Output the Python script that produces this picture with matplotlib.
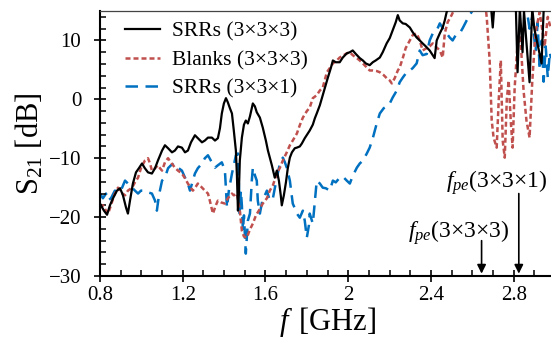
import matplotlib
matplotlib.use("Agg")
import matplotlib.pyplot as plt
from matplotlib.ticker import MultipleLocator

plt.rcParams['font.family'] = ['Liberation Serif', 'DejaVu Serif']
plt.rcParams['mathtext.fontset'] = 'custom'
plt.rcParams['mathtext.rm'] = 'Liberation Serif'
plt.rcParams['mathtext.it'] = 'Liberation Serif:italic'

# ---- data: SRRs (3x3x3) ----
f_srr333 = [0.800, 0.819, 0.834, 0.848, 0.863, 0.882, 0.897, 0.911, 0.926, 0.935,
            0.945, 0.959, 0.974, 0.988, 1.003, 1.017, 1.032, 1.051, 1.066, 1.080,
            1.100, 1.114, 1.129, 1.148, 1.162, 1.177, 1.196, 1.211, 1.225, 1.240,
            1.259, 1.273, 1.293, 1.307, 1.322, 1.341, 1.356, 1.370, 1.380, 1.389,
            1.399, 1.409, 1.418, 1.428, 1.438, 1.447, 1.457, 1.462, 1.467, 1.471,
            1.476, 1.486, 1.496, 1.505, 1.515, 1.525, 1.534, 1.539, 1.549, 1.558,
            1.573, 1.587, 1.602, 1.612, 1.621, 1.631, 1.645, 1.655, 1.665, 1.674,
            1.679, 1.689, 1.699, 1.708, 1.718, 1.728, 1.742, 1.752, 1.766, 1.776,
            1.790, 1.805, 1.814, 1.829, 1.839, 1.848, 1.863, 1.877, 1.887, 1.901,
            1.916, 1.926, 1.940, 1.959, 1.974, 1.993, 2.008, 2.022, 2.037, 2.056,
            2.071, 2.085, 2.104, 2.119, 2.133, 2.153, 2.167, 2.186, 2.201, 2.215,
            2.230, 2.240, 2.249, 2.264, 2.278, 2.298, 2.312, 2.331, 2.346, 2.360,
            2.375, 2.394, 2.409, 2.418, 2.428, 2.443, 2.457, 2.467, 2.476, 2.491,
            2.520, 2.550, 2.600, 2.640, 2.670, 2.690, 2.699, 2.708, 2.740, 2.780,
            2.810, 2.819, 2.830, 2.843, 2.850, 2.877, 2.890, 2.900, 2.935, 2.945,
            2.960, 2.980]
s_srr333 = [-17.7, -18.9, -19.6, -18.0, -16.8, -15.5, -15.1, -16.3, -18.4, -19.4,
            -17.2, -14.3, -12.4, -11.7, -10.9, -11.7, -12.4, -12.6, -11.7, -10.4,
            -8.7, -7.8, -8.3, -9.0, -8.7, -8.0, -8.2, -9.0, -8.7, -7.3,
            -6.1, -6.6, -7.3, -7.0, -6.5, -6.5, -7.0, -6.6, -4.9, -2.4,
            -0.7, 0.2, -0.5, -1.5, -2.4, -5.3, -8.7, -12.9, -18.9, -16.3,
            -10.4, -6.5, -4.3, -3.6, -4.1, -2.9, -1.5, -0.7, -1.2, -2.2,
            -3.1, -4.8, -7.0, -8.7, -9.9, -11.2, -13.3, -12.1, -13.8, -16.3,
            -18.0, -16.3, -14.1, -11.7, -9.9, -9.0, -8.3, -8.2, -8.0, -7.5,
            -6.6, -5.8, -5.3, -4.3, -3.2, -2.4, -1.0, 0.7, 1.9, 3.6,
            5.3, 6.6, 6.3, 6.3, 7.1, 7.8, 8.0, 8.3, 7.7, 7.0,
            6.6, 6.1, 5.8, 6.3, 6.6, 7.1, 8.0, 9.5, 10.4, 11.7,
            13.1, 14.3, 13.4, 12.9, 12.8, 12.2, 11.4, 10.5, 10.0, 9.5,
            9.0, 8.3, 7.5, 7.0, 10.0, 11.2, 12.2, 13.4, 14.8, 16.0,
            17.5, 18.5, 17.8, 18.2, 16.5, 16.0, 12.2, 16.5, 18.0, 17.0,
            16.5, 4.6, 15.5, 8.0, 15.0, 2.9, 15.5, 12.0, 6.1, 15.0,
            17.0, 16.5]

# ---- data: Blanks (3x3x3) ----
f_blank = [0.800, 0.814, 0.829, 0.839, 0.853, 0.868, 0.887, 0.901, 0.921, 0.935,
           0.955, 0.969, 0.984, 0.998, 1.017, 1.032, 1.042, 1.051, 1.066, 1.080,
           1.090, 1.100, 1.114, 1.129, 1.143, 1.162, 1.177, 1.196, 1.211, 1.225,
           1.240, 1.249, 1.264, 1.273, 1.288, 1.307, 1.322, 1.331, 1.346, 1.360,
           1.370, 1.385, 1.404, 1.418, 1.438, 1.447, 1.462, 1.476, 1.486, 1.496,
           1.510, 1.525, 1.539, 1.554, 1.568, 1.587, 1.607, 1.621, 1.636, 1.655,
           1.670, 1.684, 1.703, 1.718, 1.732, 1.752, 1.766, 1.781, 1.800, 1.814,
           1.829, 1.848, 1.863, 1.877, 1.897, 1.911, 1.926, 1.945, 1.959, 1.979,
           1.993, 2.008, 2.022, 2.042, 2.056, 2.071, 2.090, 2.104, 2.119, 2.138,
           2.153, 2.172, 2.186, 2.201, 2.211, 2.225, 2.240, 2.249, 2.264, 2.278,
           2.298, 2.312, 2.331, 2.346, 2.360, 2.380, 2.394, 2.409, 2.428, 2.443,
           2.457, 2.467, 2.481, 2.500, 2.520, 2.550, 2.600, 2.640, 2.665, 2.670,
           2.684, 2.694, 2.703, 2.718, 2.728, 2.738, 2.747, 2.757, 2.767, 2.776,
           2.786, 2.795, 2.805, 2.819, 2.833, 2.848, 2.862, 2.877, 2.890, 2.906,
           2.926, 2.950, 2.965, 2.980]
s_blank = [-18.4, -18.0, -18.9, -19.4, -18.0, -16.3, -15.0, -15.8, -16.3, -15.5,
           -15.0, -14.1, -13.3, -11.7, -10.4, -10.0, -10.9, -12.1, -11.7, -11.2,
           -11.7, -12.1, -10.7, -10.0, -10.7, -11.6, -12.1, -12.6, -13.4, -14.3,
           -15.1, -15.5, -14.8, -14.3, -14.8, -15.5, -16.0, -17.2, -19.4, -18.0,
           -17.2, -17.5, -17.7, -16.8, -16.0, -16.3, -16.0, -18.9, -22.3, -23.3,
           -23.5, -22.1, -21.1, -19.7, -18.9, -17.7, -16.8, -15.5, -14.6, -12.6,
           -11.6, -10.4, -9.0, -7.8, -7.0, -5.8, -4.4, -3.1, -2.0, -1.4,
           0.2, 0.7, 1.5, 2.0, 4.6, 5.3, 6.1, 6.6, 7.1, 7.5,
           7.8, 8.0, 7.5, 7.0, 6.6, 6.1, 5.4, 4.9, 4.9, 4.8,
           4.6, 4.1, 3.6, 3.2, 2.7, 3.6, 4.9, 5.4, 7.0, 8.7,
           10.0, 10.9, 11.2, 10.0, 8.3, 8.7, 9.0, 9.5, 8.8, 8.3,
           7.1, 11.2, 13.1, 14.3, 15.8, 17.5, 18.0, 16.5, 15.5, 13.9,
           6.6, -3.6, -6.5, -8.2, 0.0, 6.6, -7.0, -9.9, 0.0, 3.2,
           -3.6, -8.2, 2.0, 9.5, 10.5, 1.5, -3.6, -6.5, 3.0, 11.5,
           14.8, 9.0, 14.0, 12.0]

# ---- data: SRRs (3x3x1) ----
f_srr331 = [0.800, 0.814, 0.829, 0.839, 0.853, 0.872, 0.887, 0.901, 0.921, 0.935,
            0.955, 0.969, 0.984, 0.998, 1.017, 1.032, 1.051, 1.066, 1.075, 1.085,
            1.100, 1.114, 1.129, 1.143, 1.162, 1.177, 1.196, 1.211, 1.225, 1.235,
            1.249, 1.259, 1.273, 1.293, 1.307, 1.322, 1.336, 1.356, 1.370, 1.389,
            1.404, 1.414, 1.423, 1.438, 1.447, 1.457, 1.467, 1.476, 1.481, 1.486,
            1.491, 1.496, 1.505, 1.515, 1.525, 1.534, 1.539, 1.549, 1.558, 1.563,
            1.573, 1.587, 1.597, 1.607, 1.621, 1.636, 1.655, 1.670, 1.684, 1.694,
            1.703, 1.718, 1.732, 1.742, 1.752, 1.766, 1.781, 1.790, 1.800, 1.810,
            1.814, 1.829, 1.839, 1.848, 1.863, 1.877, 1.892, 1.911, 1.926, 1.940,
            1.959, 1.974, 1.993, 2.008, 2.022, 2.042, 2.056, 2.071, 2.090, 2.104,
            2.119, 2.138, 2.153, 2.172, 2.186, 2.201, 2.215, 2.235, 2.249, 2.264,
            2.283, 2.298, 2.312, 2.331, 2.346, 2.360, 2.380, 2.394, 2.409, 2.428,
            2.443, 2.457, 2.476, 2.491, 2.505, 2.520, 2.539, 2.554, 2.573, 2.587,
            2.602, 2.630, 2.680, 2.720, 2.780, 2.830, 2.860, 2.877, 2.890, 2.906,
            2.916, 2.926, 2.936, 2.945, 2.955, 2.965, 2.975, 2.980]
s_srr331 = [-16.0, -16.8, -16.0, -17.2, -16.8, -15.5, -15.8, -15.5, -13.8, -14.3,
            -15.0, -15.5, -16.0, -15.5, -15.5, -15.8, -16.0, -17.2, -18.9, -16.3,
            -13.8, -13.3, -11.7, -11.2, -10.9, -11.6, -12.1, -13.3, -14.3, -15.5,
            -13.8, -12.6, -11.7, -10.9, -10.0, -9.5, -10.4, -11.6, -11.2, -10.7,
            -12.1, -18.4, -15.5, -12.6, -11.2, -9.5, -9.2, -19.4, -15.5, -18.0,
            -22.3, -19.7, -26.2, -20.6, -19.4, -13.8, -11.6, -12.9, -13.8, -17.2,
            -19.4, -16.8, -16.3, -15.5, -17.2, -16.8, -13.3, -10.9, -9.9, -10.7,
            -11.6, -13.8, -17.7, -18.5, -19.4, -20.1, -18.9, -20.6, -23.5, -21.4,
            -19.4, -21.1, -17.2, -13.8, -14.3, -15.0, -15.1, -15.5, -13.8, -14.1,
            -13.3, -13.1, -13.8, -14.3, -13.0, -11.6, -10.9, -10.4, -9.2, -8.2,
            -6.6, -4.1, -2.4, -1.5, -1.2, -0.7, 0.3, 1.5, 2.9, 3.7,
            4.6, 4.9, 5.3, 6.1, 8.3, 7.5, 7.7, 10.0, 11.2, 11.7,
            12.9, 12.1, 11.2, 10.5, 10.0, 10.9, 11.2, 12.1, 13.4, 14.3,
            15.1, 17.0, 18.0, 17.0, 18.0, 17.5, 16.0, 12.0, 14.0, 8.0,
            13.0, 5.0, 10.0, 3.0, 9.0, 3.7, 8.0, 7.0]

legend_labels = ['SRRs (3\u00d73\u00d73)', 'Blanks (3\u00d73\u00d73)', 'SRRs (3\u00d73\u00d71)']
xticks = [0.8, 1.2, 1.6, 2.0, 2.4, 2.8]
xticklabels = ['0.8', '1.2', '1.6', '2', '2.4', '2.8']
yticks = [-30, -20, -10, 0, 10]
fpe_333 = 2.645
fpe_331 = 2.825

fig = plt.figure(figsize=(5.51, 3.48), dpi=100)
ax = fig.add_axes([100/551, 72/348, 455/551, 265/348])

ax.plot(f_srr333, s_srr333, color='black', lw=1.6, label=legend_labels[0], zorder=3)
ax.plot(f_blank, s_blank, color='#C0504D', lw=1.8, linestyle=(0, (2.0, 1.2)),
        label=legend_labels[1], zorder=2)
ax.plot(f_srr331, s_srr331, color='#0070C0', lw=1.8, linestyle=(0, (5.0, 3.0)),
        label=legend_labels[2], zorder=1)

ax.set_xlim(0.8, 3.0)
ax.set_ylim(-30, 15)
ax.set_xticks(xticks)
ax.set_xticklabels(xticklabels)
ax.set_yticks(yticks)
ax.xaxis.set_minor_locator(MultipleLocator(0.1))
ax.yaxis.set_minor_locator(MultipleLocator(2))
ax.tick_params(which='major', direction='inout', length=9, width=1.2, labelsize=15)
ax.tick_params(axis='x', which='major', pad=3)
ax.tick_params(axis='y', which='major', pad=9)
ax.tick_params(which='minor', direction='in', length=4.5, width=1.1)
ax.tick_params(top=False, right=False, which='both')

for s in ['left', 'bottom']:
    ax.spines[s].set_linewidth(1.5)
ax.spines['right'].set_visible(False)
ax.spines['top'].set_linewidth(0.9)
ax.spines['top'].set_color('#444444')

ax.set_xlabel(r'$f\,$ [GHz]', fontsize=22, labelpad=0)
ax.set_ylabel(r'$\mathrm{S}_{21}$ [dB]', fontsize=22, labelpad=2)

leg = ax.legend(loc='upper left', bbox_to_anchor=(0.013, 1.033), frameon=False,
                fontsize=15.5, handlelength=1.6, handletextpad=0.55, labelspacing=0.39)

ax.annotate('', xy=(fpe_333, -29.6), xytext=(fpe_333, -24.0),
            arrowprops=dict(arrowstyle='-|>', color='black', lw=1.2, mutation_scale=13,
                            shrinkA=0, shrinkB=0))
ax.annotate('', xy=(fpe_331, -29.6), xytext=(fpe_331, -16.0),
            arrowprops=dict(arrowstyle='-|>', color='black', lw=1.2, mutation_scale=13,
                            shrinkA=0, shrinkB=0))
ax.text(2.781, -22.6, r'$f_{pe}$(3$\times$3$\times$3)', ha='right', va='center', fontsize=17)
ax.text(2.964, -14.1, r'$f_{pe}$(3$\times$3$\times$1)', ha='right', va='center', fontsize=17)

fig.savefig('out.png', dpi=100)
